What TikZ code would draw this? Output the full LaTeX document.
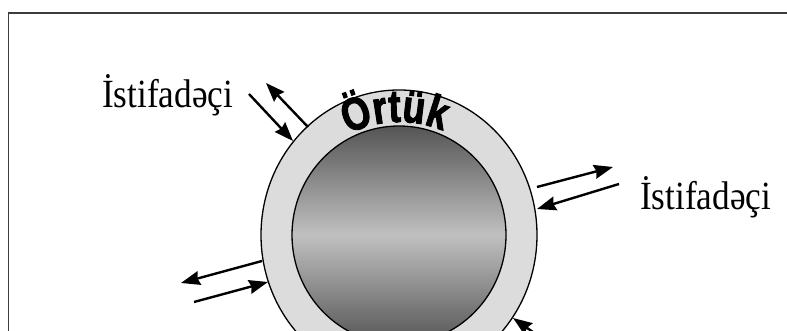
\documentclass[tikz,border=0pt]{standalone}
\usepackage{fontspec}
\setmainfont{Liberation Serif}
\newfontfamily\ortfont[FakeStretch=0.8,FakeBold=2]{Liberation Sans Bold}
\newfontfamily\lblfont[FakeStretch=0.88]{Liberation Serif}
\usetikzlibrary{arrows.meta,decorations.text}
\definecolor{ringgray}{HTML}{DCDCDC}
\definecolor{framegray}{HTML}{3C3C3C}
\definecolor{coredark}{HTML}{555555}
\definecolor{corelight}{HTML}{C0C0C0}
\newcommand\ortukstyle{\ortfont\fontsize{46}{48}\selectfont}
\begin{document}
\begin{tikzpicture}[x=1pt,y=1pt,
  arr/.style={line width=2.4pt,-{Stealth[length=19pt,width=14pt,inset=2pt]}},
  framebox/.style={draw=framegray,line width=1.5pt},
  rim/.style={draw=black,line width=1.3pt},
  lbl/.style={font=\lblfont\fontsize{40}{44}\selectfont,anchor=base west,inner sep=0pt}]
\clip (0,0) rectangle (787,331);
\fill[white] (0,0) rectangle (787,331);
\draw[framebox] (8.7,-10) rectangle (800,318);
% ring and core
\filldraw[fill=ringgray,rim] (399,96) ellipse [x radius=138,y radius=145];
\shade[top color=coredark,bottom color=coredark,middle color=corelight]
  (399,96) ellipse [x radius=107,y radius=109];
\draw[rim] (399,96) ellipse [x radius=107,y radius=109];
% curved title
\path[decorate,decoration={text along path,text align=center,
   text={|\ortukstyle|Örtük}}]
  (399,96) ++(132:113) arc[start angle=132,end angle=52,radius=113];
% labels
\node[lbl] (userL) at (102,223) {İstifadəçi};
\node[lbl] (userR) at (640,121) {İstifadəçi};
% arrow end points
\coordinate (a1s) at (249,237); \coordinate (a1e) at (293,190);
\coordinate (a2s) at (308,204); \coordinate (a2e) at (266,248);
\coordinate (b1s) at (537,144); \coordinate (b1e) at (613,164);
\coordinate (b2s) at (619,147); \coordinate (b2e) at (537,122);
\coordinate (c1s) at (262,70);  \coordinate (c1e) at (181,48);
\coordinate (c2s) at (194,29);  \coordinate (c2e) at (268,49);
\coordinate (d1s) at (547,-11); \coordinate (d1e) at (513,13);
\draw[arr] (a1s) -- (a1e);
\draw[arr] (a2s) -- (a2e);
\draw[arr] (b1s) -- (b1e);
\draw[arr] (b2s) -- (b2e);
\draw[arr] (c1s) -- (c1e);
\draw[arr] (c2s) -- (c2e);
\draw[arr] (d1s) -- (d1e);
\end{tikzpicture}
\end{document}
